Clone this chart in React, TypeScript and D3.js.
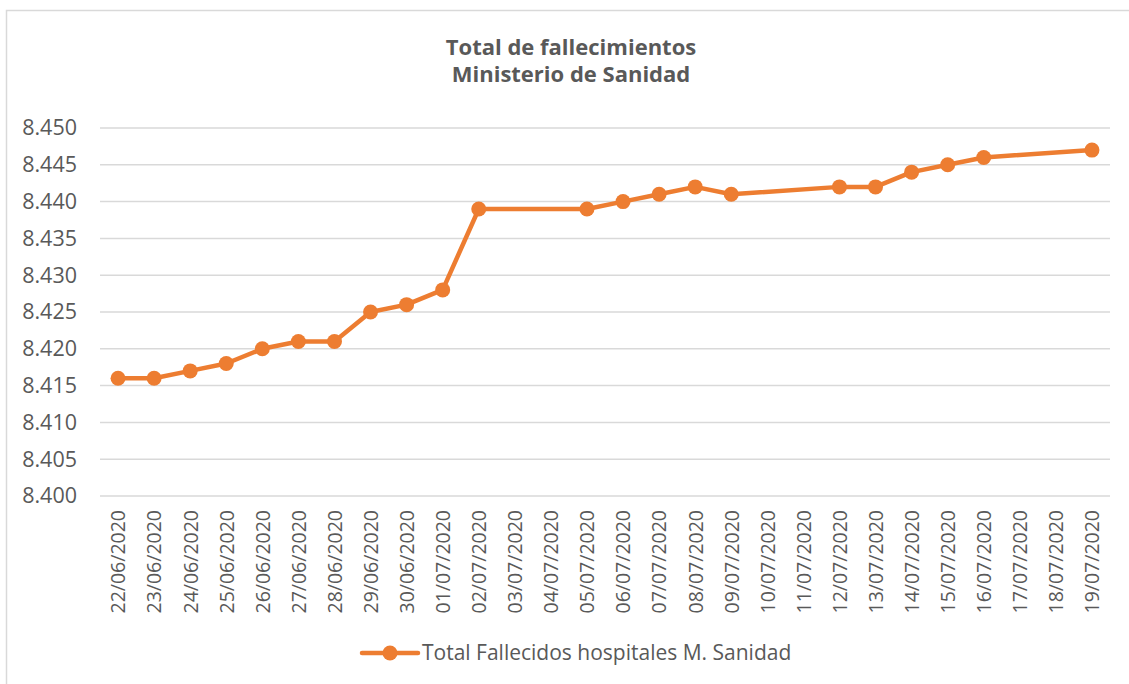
import React, { useEffect, useRef } from "react";
import * as d3 from "d3";

const dates = [
  "22/06/2020", "23/06/2020", "24/06/2020", "25/06/2020", "26/06/2020",
  "27/06/2020", "28/06/2020", "29/06/2020", "30/06/2020", "01/07/2020",
  "02/07/2020", "03/07/2020", "04/07/2020", "05/07/2020", "06/07/2020",
  "07/07/2020", "08/07/2020", "09/07/2020", "10/07/2020", "11/07/2020",
  "12/07/2020", "13/07/2020", "14/07/2020", "15/07/2020", "16/07/2020",
  "17/07/2020", "18/07/2020", "19/07/2020",
];

// null = no report that day
const deaths: (number | null)[] = [
  8416, 8416, 8417, 8418, 8420,
  8421, 8421, 8425, 8426, 8428,
  8439, null, null, 8439, 8440,
  8441, 8442, 8441, null, null,
  8442, 8442, 8444, 8445, 8446,
  null, null, 8447,
];

const yTicks = [8400, 8405, 8410, 8415, 8420, 8425, 8430, 8435, 8440, 8445, 8450];

const titleLines = ["Total de fallecimientos", "Ministerio de Sanidad"];
const seriesName = "Total Fallecidos hospitales M. Sanidad";

const ORANGE = "#ED7D31";
const TEXT = "#595959";
const GRID = "#D9D9D9";
const FONT = "'Open Sans', sans-serif";

function App() {
  const svgRef = useRef<SVGSVGElement>(null);

  useEffect(() => {
    const w = 1129;
    const h = 684;
    const left = 100;
    const right = 1110;
    const top = 128;
    const bottom = 496;

    const svg = d3.select(svgRef.current).attr("width", w).attr("height", h);
    svg.selectAll("*").remove();

    // chart border (only top/left visible in the shot)
    svg
      .append("rect")
      .attr("x", 6.5)
      .attr("y", 10.5)
      .attr("width", w + 20)
      .attr("height", h + 20)
      .attr("fill", "white")
      .attr("stroke", GRID)
      .attr("stroke-width", 1.5);

    svg
      .append("text")
      .attr("x", 571)
      .attr("y", 55)
      .attr("text-anchor", "middle")
      .style("font-family", FONT)
      .style("font-weight", "bold")
      .style("font-size", "22px")
      .style("fill", TEXT)
      .selectAll("tspan")
      .data(titleLines)
      .join("tspan")
      .attr("x", 571)
      .attr("dy", (d, i) => (i === 0 ? 0 : 27))
      .text((d) => d);

    const x = d3.scalePoint().domain(dates).range([left, right]).padding(0.5);
    const y = d3.scaleLinear().domain([8400, 8450]).range([bottom, top]);

    const fmt = (v: number) => d3.format(".3f")(v / 1000);

    // gridlines
    svg
      .append("g")
      .selectAll("line")
      .data(yTicks)
      .join("line")
      .attr("x1", left)
      .attr("x2", right)
      .attr("y1", (d) => y(d))
      .attr("y2", (d) => y(d))
      .style("stroke", GRID)
      .style("stroke-width", 1.5);

    const yAxis = d3
      .axisLeft(y)
      .tickValues(yTicks)
      .tickSize(0)
      .tickPadding(23)
      .tickFormat((d) => fmt(d as number));

    const gy = svg.append("g").attr("transform", `translate(${left},0)`).call(yAxis);
    gy.select(".domain").remove();
    gy.selectAll("text")
      .style("font-family", FONT)
      .style("font-size", "21.5px")
      .style("fill", TEXT);

    const xAxis = d3.axisBottom(x).tickSize(0);
    const gx = svg.append("g").attr("transform", `translate(0,${bottom})`).call(xAxis);
    gx.select(".domain").remove();
    gx.selectAll("text")
      .attr("transform", "rotate(-90)")
      .attr("text-anchor", "end")
      .attr("x", -14)
      .attr("y", 0)
      .attr("dy", "0.35em")
      .style("font-family", FONT)
      .style("font-size", "19.5px")
      .style("fill", TEXT);

    const pts = dates
      .map((d, i) => ({ d, v: deaths[i] }))
      .filter((p) => p.v !== null) as { d: string; v: number }[];

    const line = d3
      .line<{ d: string; v: number }>()
      .x((p) => x(p.d)!)
      .y((p) => y(p.v));

    svg
      .append("path")
      .datum(pts)
      .attr("d", line)
      .attr("fill", "none")
      .attr("stroke", ORANGE)
      .attr("stroke-width", 4.5)
      .attr("stroke-linejoin", "round");

    svg
      .append("g")
      .selectAll("circle")
      .data(pts)
      .join("circle")
      .attr("cx", (p) => x(p.d)!)
      .attr("cy", (p) => y(p.v))
      .attr("r", 7.5)
      .attr("fill", ORANGE);

    // legend
    const lg = svg.append("g").attr("transform", "translate(0,653)");
    lg.append("line")
      .attr("x1", 362)
      .attr("x2", 418)
      .attr("y1", 0)
      .attr("y2", 0)
      .attr("stroke", ORANGE)
      .attr("stroke-width", 4.5)
      .attr("stroke-linecap", "round");
    lg.append("circle").attr("cx", 390).attr("cy", 0).attr("r", 7.5).attr("fill", ORANGE);
    lg.append("text")
      .attr("x", 422)
      .attr("y", 0)
      .attr("dy", "0.35em")
      .style("font-family", FONT)
      .style("font-size", "21px")
      .style("fill", TEXT)
      .text(seriesName);
  }, []);

  return (
    <div style={{ position: "absolute", left: 0, top: 0 }}>
      <svg ref={svgRef} style={{ display: "block" }}></svg>
    </div>
  );
}

export default App;
